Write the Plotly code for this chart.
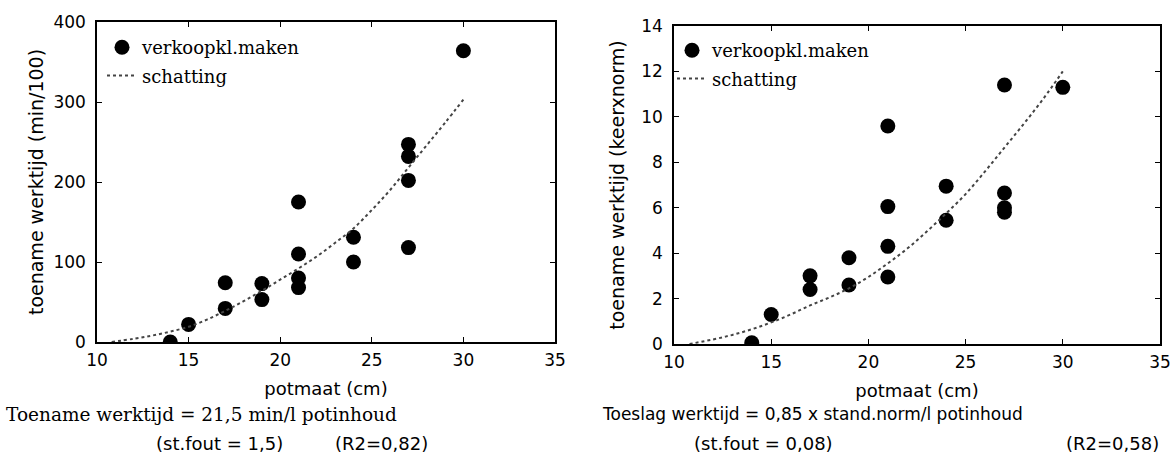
import plotly.graph_objects as go

# ---- data ----
# left panel: toename werktijd (min/100)
left_x = [14, 15, 17, 17, 19, 19, 21, 21, 21, 21, 24, 24, 27, 27, 27, 27, 30]
left_y = [0, 22, 42, 74, 53, 73, 68, 80, 110, 175, 100, 131, 118, 202, 232, 247, 364]
left_fit_x = [10.8, 12, 13, 14, 15, 16, 17, 18, 19, 20, 21, 22, 23, 24, 25, 26, 27, 28, 29, 30]
left_fit_y = [0, 4, 8, 13, 19, 28, 39, 51, 64, 78, 92, 107, 124, 142, 165, 190, 218, 246, 274, 303]

# right panel: toename werktijd (keerxnorm)
right_x = [14, 15, 17, 17, 19, 19, 21, 21, 21, 21, 24, 24, 27, 27, 27, 27, 30]
right_y = [0.05, 1.3, 2.4, 3.0, 2.6, 3.8, 2.95, 4.3, 6.05, 9.6, 5.45, 6.95, 5.8, 6.0, 6.65, 11.4, 11.3]
right_fit_x = [10.8, 12, 13, 14, 15, 16, 17, 18, 19, 20, 21, 22, 23, 24, 25, 26, 27, 28, 29, 30]
right_fit_y = [0, 0.2, 0.4, 0.65, 0.95, 1.3, 1.7, 2.05, 2.45, 2.95, 3.55, 4.2, 4.95, 5.75, 6.6,
               7.6, 8.65, 9.7, 10.8, 12.0]

x_ticks = [10, 15, 20, 25, 30, 35]
left_y_ticks = [0, 100, 200, 300, 400]
right_y_ticks = [0, 2, 4, 6, 8, 10, 12, 14]

series_names = ["verkoopkl.maken", "schatting"]

W, H = 1174, 459
SANS = "DejaVu Sans"
SERIF = "DejaVu Serif"

fig = go.Figure()

def px_x(p):
    return p / W

def px_y(p):
    return 1 - p / H

# left
fig.add_trace(go.Scatter(x=left_x, y=left_y, mode="markers", name=series_names[0],
                         marker=dict(size=15, color="black"), xaxis="x", yaxis="y",
                         legend="legend", legendgroup="a"))
fig.add_trace(go.Scatter(x=left_fit_x, y=left_fit_y, mode="lines", name=series_names[1],
                         line=dict(color="#444444", width=2, dash="dot", shape="spline"),
                         xaxis="x", yaxis="y", legend="legend", legendgroup="b"))
# right
fig.add_trace(go.Scatter(x=right_x, y=right_y, mode="markers", name=series_names[0],
                         marker=dict(size=15, color="black"), xaxis="x2", yaxis="y2",
                         legend="legend2", legendgroup="c"))
fig.add_trace(go.Scatter(x=right_fit_x, y=right_fit_y, mode="lines", name=series_names[1],
                         line=dict(color="#444444", width=2, dash="dot", shape="spline"),
                         xaxis="x2", yaxis="y2", legend="legend2", legendgroup="d"))

axis_common = dict(showgrid=False, zeroline=False, showline=True, linecolor="black",
                   linewidth=1.5, mirror="ticks", ticks="inside", ticklen=5,
                   tickcolor="black", automargin=False,
                   tickfont=dict(family=SANS, size=17, color="black"))

xtitle_font = dict(family=SANS, size=18, color="black")
ytitle_font = dict(family=SANS, size=19, color="black")

fig.update_layout(
    template="none",
    width=W, height=H,
    margin=dict(l=0, r=0, t=0, b=0, pad=0),
    paper_bgcolor="white", plot_bgcolor="white",
    showlegend=True,
    xaxis=dict(domain=[px_x(97), px_x(555)], range=[10, 35], tickvals=x_ticks,
               anchor="y", ticklabelstandoff=2,
               title=dict(text="potmaat (cm)", standoff=13, font=xtitle_font),
               **axis_common),
    yaxis=dict(domain=[px_y(342), px_y(22)], range=[0, 400], tickvals=left_y_ticks,
               anchor="x", ticklabelstandoff=6,
               title=dict(text="toename werktijd (min/100)", standoff=5, font=ytitle_font),
               **axis_common),
    xaxis2=dict(domain=[px_x(674), px_x(1160)], range=[10, 35], tickvals=x_ticks,
                anchor="y2", ticklabelstandoff=2,
                title=dict(text="potmaat (cm)", standoff=13, font=xtitle_font),
                **axis_common),
    yaxis2=dict(domain=[px_y(344), px_y(26)], range=[0, 14], tickvals=right_y_ticks,
                anchor="x2", ticklabelstandoff=6,
                title=dict(text="toename werktijd (keerxnorm)", standoff=12, font=ytitle_font),
                **axis_common),
    legend=dict(x=px_x(102), y=px_y(29), xanchor="left", yanchor="top",
                bgcolor="rgba(0,0,0,0)", tracegroupgap=2, borderwidth=0,
                font=dict(family=SERIF, size=18, color="black")),
    legend2=dict(x=px_x(672), y=px_y(32), xanchor="left", yanchor="top",
                 bgcolor="rgba(0,0,0,0)", tracegroupgap=2, borderwidth=0,
                 font=dict(family=SERIF, size=18, color="black")),
)

captions = [
    ("Toename werktijd = 21,5 min/l potinhoud", 4, 414, SERIF, 18.5),
    ("(st.fout = 1,5)", 154, 443, SANS, 18),
    ("(R2=0,82)", 333, 443, SANS, 18),
    ("Toeslag werktijd = 0,85 x stand.norm/l potinhoud", 600, 414, SANS, 17),
    ("(st.fout = 0,08)", 692, 443, SANS, 18),
    ("(R2=0,58)", 1064, 443, SANS, 18),
]
for text, x, y, fam, size in captions:
    fig.add_annotation(text=text, x=px_x(x), y=px_y(y), xref="paper", yref="paper",
                       xanchor="left", yanchor="middle", showarrow=False,
                       font=dict(family=fam, size=size, color="black"))

# remove the default 8 px page margin so the figure fills the window exactly
fig.write_html("out.html", config={"displayModeBar": False},
               post_script="document.body.style.margin='0';")
